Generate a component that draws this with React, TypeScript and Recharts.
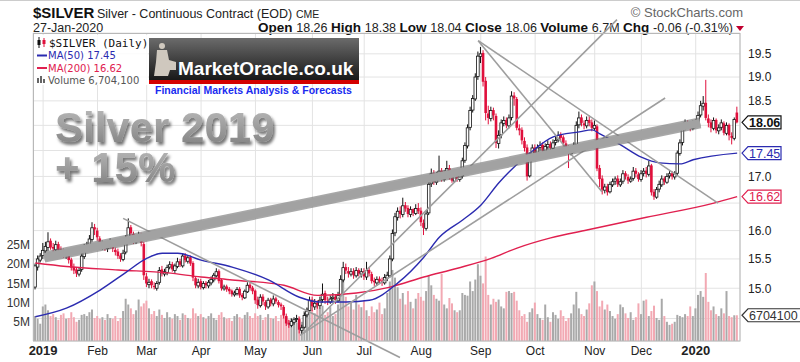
import React from 'react'
import {
  ComposedChart,
  Bar,
  Line,
  XAxis,
  YAxis,
  CartesianGrid,
  ReferenceLine,
  Cell,
} from 'recharts'

const FONT = '"Liberation Sans", Arial, sans-serif'

// month labels and the bar index each month starts at
const monthLabels = ['2019', 'Feb', 'Mar', 'Apr', 'May', 'Jun', 'Jul', 'Aug', 'Sep', 'Oct', 'Nov', 'Dec', '2020']
const monthStarts = [0, 21, 40, 61, 82, 104, 124, 146, 169, 190, 213, 231, 252]

const priceTicks = [14.5, 15, 15.5, 16, 16.5, 17, 17.5, 18, 18.5, 19, 19.5]
// tick labels hidden behind the value tags on the right
const coveredTicks = [14.5, 16.5, 17.5, 18]
const volumeTicks = [5, 10, 15, 20, 25]

// first three bars are the last sessions of Dec 2018
const firstIndex = -3

const opens = [
  15.02, 15.36, 15.48,
  15.56, 15.64, 15.70, 15.82, 15.71, 15.66, 15.76, 15.67, 15.63, 15.56, 15.62, 15.49, 15.36, 15.32, 15.24, 15.32, 15.54, 15.69, 15.73, 15.84, 16.06,
  16.00, 15.86, 15.70, 15.76, 15.68, 15.73, 15.81, 15.66, 15.63, 15.56, 15.49, 15.62, 15.84, 16.06, 15.94, 15.80, 15.84, 15.92, 15.76,
  15.20, 15.06, 15.12, 15.04, 15.00, 15.10, 15.32, 15.24, 15.27, 15.36, 15.41, 15.30, 15.37, 15.46, 15.38, 15.56, 15.46, 15.53, 15.43, 15.17, 15.04,
  15.12, 15.01, 15.09, 15.04, 15.09, 15.14, 15.21, 15.29, 15.14, 14.99, 15.03, 14.99, 14.96, 14.89, 14.91, 14.99, 14.89, 14.84, 14.94, 15.06, 15.01,
  14.96, 14.81, 14.71, 14.86, 14.77, 14.69, 14.81, 14.74, 14.83, 14.77, 14.73, 14.69, 14.54, 14.43, 14.39, 14.44, 14.49, 14.49, 14.31, 14.36, 14.56, 14.63,
  14.81, 14.69, 14.76, 14.71, 14.81, 14.92, 14.79, 14.77, 14.83, 14.86, 14.79, 14.89, 15.14, 15.36, 15.29, 15.24, 15.29, 15.21, 15.31, 15.24,
  15.29, 15.19, 15.31, 15.24, 15.13, 15.09, 15.16, 15.13, 15.09, 15.17, 15.21, 15.50, 15.96, 16.24, 16.36, 16.29, 16.46, 16.41, 16.29, 16.39, 16.31, 16.41,
  16.36, 16.14, 16.04, 16.32, 16.86, 17.06, 16.89, 17.01, 17.11, 16.94, 17.06, 17.16, 16.99, 16.91, 17.06, 16.94, 17.01, 17.31, 17.59, 17.96, 18.31, 18.54, 19.01,
  19.44, 19.52, 18.92, 18.24, 18.14, 18.31, 18.19, 17.64, 17.81, 18.04, 18.11, 17.99, 18.16, 18.61, 18.54, 17.94, 17.91, 17.69, 17.56, 17.01, 17.41,
  17.56, 17.44, 17.56, 17.61, 17.49, 17.57, 17.63, 17.54, 17.66, 17.71, 17.81, 17.76, 17.64, 17.56, 17.44, 17.51, 17.61, 18.01, 18.16, 18.04, 17.99, 18.11, 18.06,
  17.94, 17.98, 17.16, 16.96, 16.74, 16.81, 16.71, 16.84, 16.91, 16.96, 16.84, 16.91, 17.06, 16.99, 16.91, 16.96, 17.11, 17.04,
  16.94, 17.06, 17.11, 17.04, 17.21, 16.71, 16.61, 16.76, 16.84, 16.96, 16.89, 17.01, 17.06, 16.99, 17.06, 17.44, 17.66, 17.94, 18.06, 17.99, 17.94,
  18.06, 18.04, 18.21, 18.39, 18.46, 18.14, 18.06, 17.94, 18.11, 17.89, 17.96, 18.04, 17.84, 18.01, 17.79, 17.74, 18.26,
]

const highs = [
  15.42, 15.56, 15.60,
  15.78, 15.80, 15.97, 15.86, 15.78, 15.82, 15.80, 15.72, 15.68, 15.66, 15.65, 15.52, 15.42, 15.36, 15.36, 15.60, 15.76, 15.80, 15.92, 16.15, 16.12,
  16.05, 15.90, 15.82, 15.80, 15.78, 15.86, 15.84, 15.70, 15.68, 15.60, 15.66, 15.92, 16.22, 16.10, 15.98, 15.92, 15.98, 15.96, 15.80,
  15.26, 15.16, 15.15, 15.10, 15.12, 15.36, 15.38, 15.33, 15.40, 15.46, 15.45, 15.42, 15.52, 15.50, 15.60, 15.60, 15.56, 15.56, 15.46, 15.20, 15.16,
  15.16, 15.12, 15.12, 15.14, 15.20, 15.26, 15.34, 15.32, 15.16, 15.06, 15.06, 15.02, 14.98, 14.96, 15.02, 15.02, 14.92, 14.98, 15.10, 15.10, 15.04,
  14.98, 14.86, 14.90, 14.90, 14.80, 14.84, 14.84, 14.88, 14.86, 14.80, 14.76, 14.72, 14.58, 14.48, 14.50, 14.52, 14.56, 14.52, 14.40, 14.60, 14.68, 14.86,
  14.86, 14.82, 14.80, 14.86, 15.08, 14.96, 14.86, 14.88, 14.92, 14.90, 14.94, 15.22, 15.45, 15.42, 15.36, 15.34, 15.34, 15.36, 15.34, 15.34,
  15.34, 15.45, 15.36, 15.28, 15.18, 15.20, 15.20, 15.18, 15.24, 15.28, 15.56, 16.02, 16.32, 16.42, 16.44, 16.60, 16.52, 16.46, 16.44, 16.40, 16.48, 16.50,
  16.42, 16.20, 16.36, 16.92, 17.15, 17.12, 17.08, 17.40, 17.16, 17.12, 17.30, 17.22, 17.04, 17.10, 17.10, 17.06, 17.36, 17.66, 18.02, 18.38, 18.62, 19.08, 19.55,
  19.65, 19.58, 19.00, 18.40, 18.38, 18.36, 18.24, 17.90, 18.12, 18.18, 18.16, 18.22, 18.70, 18.68, 18.58, 18.02, 17.96, 17.76, 17.62, 17.46, 17.62,
  17.62, 17.62, 17.68, 17.66, 17.64, 17.70, 17.68, 17.72, 17.78, 17.88, 17.86, 17.80, 17.70, 17.60, 17.58, 17.66, 18.08, 18.28, 18.22, 18.10, 18.18, 18.20, 18.12,
  18.10, 18.02, 17.22, 17.02, 16.86, 16.86, 16.90, 16.96, 17.00, 17.02, 16.96, 17.12, 17.10, 17.04, 17.00, 17.18, 17.16, 17.08,
  17.12, 17.16, 17.18, 17.30, 17.24, 16.76, 16.80, 16.92, 17.02, 17.00, 17.06, 17.10, 17.10, 17.10, 17.50, 17.72, 18.00, 18.12, 18.10, 18.04, 18.10,
  18.12, 18.28, 18.50, 18.60, 18.94, 18.22, 18.12, 18.16, 18.14, 18.02, 18.12, 18.08, 18.06, 18.04, 17.86, 18.16, 18.38,
]

const lows = [
  14.98, 15.30, 15.44,
  15.50, 15.58, 15.64, 15.66, 15.60, 15.62, 15.60, 15.56, 15.52, 15.50, 15.42, 15.30, 15.24, 15.19, 15.20, 15.28, 15.50, 15.62, 15.68, 15.80, 15.92,
  15.82, 15.66, 15.66, 15.64, 15.62, 15.68, 15.62, 15.56, 15.50, 15.45, 15.46, 15.58, 15.80, 15.90, 15.76, 15.76, 15.80, 15.72, 15.14,
  15.02, 15.00, 15.00, 14.98, 14.96, 15.06, 15.20, 15.20, 15.22, 15.32, 15.28, 15.26, 15.34, 15.36, 15.35, 15.44, 15.42, 15.38, 15.12, 15.00, 15.00,
  14.98, 14.98, 15.00, 15.00, 15.05, 15.10, 15.18, 15.08, 14.96, 14.96, 14.94, 14.90, 14.86, 14.86, 14.88, 14.84, 14.80, 14.82, 14.92, 14.96, 14.90,
  14.74, 14.66, 14.68, 14.72, 14.64, 14.66, 14.70, 14.70, 14.74, 14.68, 14.64, 14.50, 14.38, 14.35, 14.36, 14.40, 14.44, 14.26, 14.25, 14.34, 14.52, 14.60,
  14.62, 14.64, 14.66, 14.66, 14.76, 14.74, 14.72, 14.74, 14.78, 14.74, 14.76, 14.86, 15.10, 15.24, 15.18, 15.20, 15.16, 15.18, 15.20, 15.18,
  15.14, 15.14, 15.20, 15.08, 15.04, 15.05, 15.08, 15.04, 15.06, 15.12, 15.18, 15.46, 15.90, 16.18, 16.22, 16.24, 16.34, 16.24, 16.24, 16.26, 16.28, 16.30,
  16.08, 15.92, 16.00, 16.28, 16.80, 16.84, 16.84, 16.94, 16.90, 16.90, 17.00, 16.94, 16.88, 16.88, 16.90, 16.90, 16.96, 17.26, 17.54, 17.90, 18.26, 18.50, 18.94,
  19.30, 18.80, 18.10, 18.02, 18.08, 18.10, 17.55, 17.54, 17.74, 17.98, 17.94, 17.94, 18.10, 18.40, 17.90, 17.80, 17.62, 17.48, 16.92, 16.98, 17.34,
  17.38, 17.40, 17.50, 17.44, 17.44, 17.52, 17.48, 17.50, 17.60, 17.66, 17.68, 17.58, 17.48, 17.16, 17.40, 17.46, 17.56, 17.94, 17.98, 17.92, 17.94, 17.98, 17.88,
  17.90, 17.10, 16.80, 16.66, 16.68, 16.64, 16.68, 16.80, 16.84, 16.80, 16.80, 16.86, 16.94, 16.86, 16.88, 16.92, 16.98, 16.90,
  16.90, 17.00, 16.98, 17.00, 16.64, 16.56, 16.58, 16.70, 16.80, 16.84, 16.86, 16.96, 16.94, 16.94, 17.02, 17.40, 17.60, 17.90, 17.94, 17.88, 17.90,
  17.96, 18.00, 18.16, 18.30, 18.10, 17.96, 17.86, 17.90, 17.84, 17.82, 17.90, 17.80, 17.80, 17.70, 17.62, 17.70, 18.04,
]

const closes = [
  15.38, 15.50, 15.55,
  15.65, 15.72, 15.80, 15.70, 15.68, 15.75, 15.66, 15.62, 15.58, 15.60, 15.48, 15.35, 15.30, 15.25, 15.30, 15.55, 15.70, 15.72, 15.85, 16.05, 16.02,
  15.88, 15.72, 15.75, 15.70, 15.72, 15.80, 15.68, 15.62, 15.55, 15.50, 15.60, 15.85, 16.05, 15.95, 15.82, 15.85, 15.90, 15.78, 15.22,
  15.08, 15.10, 15.05, 15.02, 15.08, 15.30, 15.25, 15.28, 15.35, 15.40, 15.32, 15.38, 15.45, 15.40, 15.55, 15.48, 15.52, 15.42, 15.18, 15.05, 15.10,
  15.02, 15.08, 15.05, 15.10, 15.15, 15.22, 15.28, 15.12, 15.00, 15.02, 14.98, 14.95, 14.90, 14.92, 14.98, 14.88, 14.85, 14.95, 15.05, 15.00, 14.95,
  14.80, 14.72, 14.85, 14.78, 14.70, 14.80, 14.75, 14.82, 14.78, 14.72, 14.70, 14.55, 14.42, 14.40, 14.45, 14.48, 14.50, 14.32, 14.35, 14.55, 14.62, 14.80,
  14.70, 14.75, 14.72, 14.80, 14.90, 14.80, 14.78, 14.82, 14.85, 14.80, 14.88, 15.15, 15.35, 15.30, 15.25, 15.28, 15.22, 15.30, 15.25, 15.28,
  15.20, 15.30, 15.25, 15.12, 15.10, 15.15, 15.12, 15.10, 15.18, 15.22, 15.50, 15.95, 16.25, 16.35, 16.30, 16.45, 16.40, 16.30, 16.38, 16.32, 16.40, 16.35,
  16.15, 16.05, 16.30, 16.85, 17.05, 16.90, 17.00, 17.10, 16.95, 17.05, 17.15, 17.00, 16.92, 17.05, 16.95, 17.00, 17.30, 17.60, 17.95, 18.30, 18.55, 19.00, 19.45,
  19.50, 18.90, 18.25, 18.15, 18.30, 18.20, 17.65, 17.80, 18.05, 18.10, 18.00, 18.15, 18.60, 18.55, 17.95, 17.90, 17.70, 17.55, 17.00, 17.40, 17.55,
  17.45, 17.55, 17.60, 17.50, 17.58, 17.62, 17.55, 17.65, 17.70, 17.80, 17.75, 17.65, 17.55, 17.45, 17.50, 17.60, 18.00, 18.15, 18.05, 18.00, 18.10, 18.05, 17.95,
  18.00, 17.15, 16.95, 16.75, 16.80, 16.70, 16.85, 16.90, 16.95, 16.85, 16.90, 17.05, 17.00, 16.92, 16.95, 17.10, 17.05, 16.95,
  17.05, 17.10, 17.05, 17.20, 16.70, 16.62, 16.75, 16.85, 16.95, 16.90, 17.00, 17.05, 17.00, 17.05, 17.45, 17.65, 17.95, 18.05, 18.00, 17.95, 18.05,
  18.05, 18.20, 18.40, 18.45, 18.15, 18.05, 17.95, 18.10, 17.90, 17.95, 18.05, 17.85, 18.00, 17.80, 17.75, 18.12, 18.06,
]

// daily volume, millions
const volumes = [
  6.5, 5.8, 4.5,
  9.0, 9.5, 8.0, 6.5, 7.0, 6.2, 5.5, 6.8, 7.2, 5.8, 6.0, 7.5, 6.2, 5.0, 5.5, 6.8, 7.0, 6.5, 7.5, 8.2, 6.0,
  6.5, 5.8, 6.2, 5.5, 7.0, 6.0, 5.8, 6.5, 5.2, 6.0, 7.8, 11.0, 9.5, 8.5, 7.0, 8.0, 10.8, 9.0, 9.8,
  10.5, 8.5, 7.0, 7.8, 6.5, 8.2, 6.8, 6.0, 7.5, 6.2, 5.8, 7.0, 6.5, 5.5, 7.2, 6.8, 6.0, 5.8, 8.5, 7.2, 6.5,
  7.0, 6.2, 5.8, 6.5, 7.2, 6.0, 5.5, 6.8, 7.5, 6.2, 5.8, 6.0, 5.2, 6.5, 7.0, 6.2, 5.8, 6.8, 7.5, 6.5, 6.0,
  7.2, 6.5, 6.8, 5.5, 6.2, 7.0, 6.0, 5.8, 6.5, 5.2, 6.8, 7.5, 6.2, 5.5, 6.0, 5.2, 4.8, 6.5, 5.0, 7.8, 8.5, 9.5,
  8.0, 7.2, 10.0, 8.5, 9.2, 6.8, 7.5, 8.8, 6.5, 7.0, 9.5, 13.0, 16.5, 11.5, 9.0, 10.0, 8.2, 12.0, 9.5, 8.8,
  10.5, 8.0, 6.5, 9.0, 7.5, 8.2, 10.0, 7.0, 8.5, 12.5, 15.5, 18.5, 16.5, 14.0, 11.0, 12.5, 9.5, 13.0, 10.2, 8.5, 11.0, 12.5,
  11.5, 10.5, 13.0, 17.0, 14.5, 12.0, 11.0, 10.5, 17.5, 9.5, 8.5, 11.2, 9.8, 8.0, 7.5, 8.0, 12.5, 12.0, 11.8, 15.5, 13.0, 16.0, 20.0,
  17.0, 15.0, 22.0, 12.0, 9.5, 11.0, 10.2, 10.8, 9.0, 8.5, 12.8, 13.0, 12.5, 12.8, 10.5, 8.0, 6.5, 7.0, 5.0, 7.5, 8.5,
  10.0, 7.0, 6.0, 5.5, 9.5, 6.2, 5.0, 7.5, 6.8, 5.8, 8.0, 6.5, 5.2, 6.0, 7.2, 9.5, 12.8, 8.5, 7.0, 6.5, 8.2, 9.8, 14.5,
  15.5, 13.0, 9.0, 10.5, 8.2, 9.5, 7.8, 6.5, 5.8, 7.0, 9.5, 8.8, 7.2, 6.0, 7.5, 5.5, 6.2, 9.8,
  7.0, 10.5, 10.8, 6.5, 7.8, 9.2, 6.0, 5.5, 11.0, 6.5, 5.0, 4.2, 4.5, 5.0, 6.8, 6.5, 6.2, 7.0, 6.5, 9.0, 6.5,
  8.5, 12.0, 13.0, 11.5, 17.7, 10.2, 8.0, 9.0, 7.0, 6.5, 8.5, 7.2, 13.0, 6.5, 6.2, 6.7, 6.7041,
]

// moving averages: [bar index, value]
const ma50 = [
  [-3, 14.53], [9, 14.67], [22, 14.97], [32, 15.27], [40, 15.51], [46, 15.6], [52, 15.6], [61, 15.48],
  [73, 15.36], [87, 15.14], [99, 14.85], [107, 14.77], [117, 14.77], [126, 14.8], [137, 15.09], [147, 15.53],
  [153, 15.88], [162, 16.19], [169, 16.46], [176, 16.88], [188, 17.45], [197, 17.77], [207, 17.87], [212, 17.91],
  [215, 17.83], [223, 17.61], [231, 17.37], [238, 17.26], [246, 17.24], [251, 17.32], [268, 17.45],
]
const ma200 = [
  [-3, 15.43], [9, 15.37], [29, 15.31], [48, 15.26], [61, 15.19], [73, 15.14], [93, 15.05], [106, 14.88],
  [121, 14.92], [134, 15.02], [147, 15.19], [160, 15.34], [173, 15.51], [183, 15.69], [196, 15.87], [210, 16.01],
  [233, 16.24], [259, 16.5], [268, 16.62],
]

// hand-drawn trend lines: [bar index, price] -> [bar index, price]
const trendLines = [
  { from: [30.9, 16.22], to: [137.8, 13.88] },
  { from: [168, 19.79], to: [215.8, 16.71] },
  { from: [168, 19.79], to: [260.6, 16.5] },
  { from: [100.4, 14.26], to: [221.6, 20.26] },
  { from: [99.2, 14.23], to: [240.2, 18.56] },
]
const mainTrend = { from: [0.4, 15.53], to: [253.7, 18.05] }

const rows = closes.map((c, k) => {
  const i = firstIndex + k
  const prev = k > 0 ? closes[k - 1] : opens[k]
  const m50 = ma50.find((p) => p[0] === i)
  const m200 = ma200.find((p) => p[0] === i)
  return {
    i,
    o: opens[k],
    h: highs[k],
    l: lows[k],
    c,
    range: [lows[k], highs[k]],
    vol: volumes[k],
    up: c >= prev,
    ma50: m50 ? m50[1] : null,
    ma200: m200 ? m200[1] : null,
  }
})

const RED = '#e0103c'

function Candle(props: any) {
  const { x, y, width, height, payload } = props
  if (!payload || height == null || isNaN(y)) return null
  const { o, h, l, c, up } = payload
  const lh = Math.log(h)
  const ll = Math.log(l)
  const py = (p: number) => y + (height * (lh - Math.log(p))) / (lh - ll || 1)
  const cx = x + width / 2
  const color = up ? '#111' : RED
  const top = py(Math.max(o, c))
  const bh = Math.max(py(Math.min(o, c)) - top, 1)
  const hollow = c > o
  return (
    <g>
      <line x1={cx} x2={cx} y1={y} y2={y + height} stroke={color} strokeWidth={1} />
      <rect
        x={cx - 1.3}
        y={top}
        width={2.6}
        height={bh}
        fill={hollow ? '#fff' : color}
        stroke={color}
        strokeWidth={hollow ? 0.8 : 0}
      />
    </g>
  )
}

function MonthTick(props: any) {
  const { x, payload } = props
  const label = monthLabels[monthStarts.indexOf(payload.value)]
  const year = /^\d{4}$/.test(label)
  return (
    <text x={x} y={355} textAnchor="middle" fontSize={year ? 13 : 12} fontWeight={year ? 700 : 400} fill="#222" fontFamily={FONT}>
      {label}
    </text>
  )
}

function PriceTick(props: any) {
  const { x, y, payload } = props
  if (coveredTicks.includes(payload.value)) return <g />
  return (
    <text x={x} y={y} dy="0.355em" fontSize={12} fill="#222" fontFamily={FONT}>
      {payload.value.toFixed(1)}
    </text>
  )
}

function ValueTag(props: any) {
  const { viewBox, text, color, bold, wide } = props
  if (!viewBox) return null
  const x0 = viewBox.x + viewBox.width + 2
  const y0 = viewBox.y
  const w = wide ? 70 : 39
  return (
    <g>
      <path
        d={`M${x0},${y0} L${x0 + 6},${y0 - 6.5} L${x0 + w},${y0 - 6.5} L${x0 + w},${y0 + 6.5} L${x0 + 6},${y0 + 6.5} Z`}
        fill="#fff"
        stroke={color}
        strokeWidth={1.2}
      />
      <text x={x0 + 7} y={y0 + 4.5} fontSize={12.5} fontWeight={bold ? 700 : 400} fill={color} fontFamily={FONT}>
        {text}
      </text>
    </g>
  )
}

function Header() {
  const lab = { fontSize: 13.5, fontWeight: 700, fill: '#111' }
  const num = { fontSize: 12.5, fontWeight: 400, fill: '#222' }
  return (
    <svg width={800} height={362} style={{ position: 'absolute', left: 0, top: 0 }} fontFamily={FONT}>
      <line x1={0} x2={800} y1={0.5} y2={0.5} stroke="#ccc" />
      <text x={33} y={18} fontSize={15} fontWeight={700} fill="#111">$SILVER</text>
      <text x={97} y={18} fontSize={12.5} fill="#222">Silver - Continuous Contract (EOD)</text>
      <text x={296} y={18} fontSize={10.5} fill="#222">CME</text>
      <text x={743} y={17} textAnchor="end" fontSize={13} fill="#666">© StockCharts.com</text>
      <text x={33} y={32} fontSize={12.5} fill="#222">27-Jan-2020</text>
      <text x={733} y={32} textAnchor="end" xmlSpace="preserve">
        <tspan {...lab}>Open </tspan>
        <tspan {...num}>18.26 </tspan>
        <tspan {...lab}>High </tspan>
        <tspan {...num}>18.38 </tspan>
        <tspan {...lab}>Low </tspan>
        <tspan {...num}>18.04 </tspan>
        <tspan {...lab}>Close </tspan>
        <tspan {...num}>18.06 </tspan>
        <tspan {...lab}>Volume </tspan>
        <tspan {...num}>6.7M </tspan>
        <tspan {...lab}>Chg </tspan>
        <tspan {...num}>-0.06 (-0.31%)</tspan>
      </text>
      <path d="M736,26 L744,26 L740,31 Z" fill="#c00030" />
    </svg>
  )
}

function Overlay() {
  return (
    <svg width={800} height={362} style={{ position: 'absolute', left: 0, top: 0, pointerEvents: 'none' }} fontFamily={FONT}>
      <defs>
        <linearGradient id="logoBg" x1="0" y1="0" x2="0" y2="1">
          <stop offset="0" stopColor="#6b6b6b" />
          <stop offset="1" stopColor="#161616" />
        </linearGradient>
        <linearGradient id="bigText" x1="0" y1="0" x2="0" y2="1">
          <stop offset="0" stopColor="#bdbdbd" />
          <stop offset="1" stopColor="#7c7c7c" />
        </linearGradient>
        <filter id="shadow" x="-10%" y="-20%" width="130%" height="160%">
          <feDropShadow dx="2" dy="3" stdDeviation="1.6" floodColor="#000" floodOpacity="0.55" />
        </filter>
      </defs>
      <rect x={33.5} y={33.5} width={706.5} height={307.5} fill="none" stroke="#b8b8b8" />

      {/* legend */}
      <rect x={34} y={35} width={114} height={50} fill="#fff" fillOpacity={0.85} />
      <line x1={39} x2={39} y1={37} y2={48} stroke="#111" />
      <rect x={37.5} y={40} width={3} height={5} fill="#111" />
      <line x1={44} x2={44} y1={38} y2={47} stroke={RED} />
      <rect x={42.5} y={40} width={3} height={4} fill={RED} />
      <text x={49} y={47} fontSize={11} fontFamily='"DejaVu Sans Mono", monospace' fill="#111">$SILVER (Daily)</text>
      <line x1={37} x2={47} y1={55.5} y2={55.5} stroke="#2b2bb0" strokeWidth={2} />
      <text x={48} y={59} fontSize={10} fontFamily='"DejaVu Sans", sans-serif' fill="#2b2bb0">MA(50) 17.45</text>
      <line x1={37} x2={47} y1={68} y2={68} stroke="#e0204f" strokeWidth={2} />
      <text x={48} y={72} fontSize={10} fontFamily='"DejaVu Sans", sans-serif' fill="#e0204f">MA(200) 16.62</text>
      <rect x={37} y={78} width={2} height={5} fill="#666" />
      <rect x={40} y={76} width={2} height={7} fill="#666" />
      <rect x={43} y={79} width={2} height={4} fill="#666" />
      <text x={48} y={84} fontSize={10} fontFamily='"DejaVu Sans", sans-serif' fill="#555">Volume 6,704,100</text>

      {/* MarketOracle logo */}
      <rect x={149} y={38} width={210} height={43} fill="url(#logoBg)" />
      <rect x={149} y={80} width={210} height={4} fill="#d40000" />
      <g fill="#cfc8be">
        <circle cx={162} cy={46} r={3} />
        <path d="M157,50 L167,50 L169,60 L176,62 L176,70 L170,70 L168,76 L154,76 L156,62 Z" />
      </g>
      <text x={178} y={75} fontSize={19} fontWeight={700} fill="#fff">MarketOracle.co.uk</text>
      <text x={155} y={94} fontSize={10.5} fontWeight={700} fill="#1a2cf0">Financial Markets Analysis &amp; Forecasts</text>

      {/* headline */}
      <g filter="url(#shadow)" fill="url(#bigText)" fontSize={42} fontWeight={700}>
        <text x={55} y={142}>Silver 2019</text>
        <text x={55} y={182}>+ 15%</text>
      </g>
    </svg>
  )
}

export default function App() {
  return (
    <div style={{ position: 'absolute', left: 0, top: 0, width: 800, height: 362, background: '#fff', overflow: 'hidden' }}>
      <Header />
      <div style={{ position: 'absolute', left: 0, top: 0 }}>
        <ComposedChart width={800} height={362} data={rows} margin={{ top: 33, right: 0, bottom: 0, left: 0 }}>
          <XAxis
            xAxisId="x"
            dataKey="i"
            type="number"
            domain={[-3.9, 269.1]}
            ticks={monthStarts}
            interval={0}
            tick={<MonthTick />}
            height={21}
            axisLine={false}
            tickLine={false}
            tickSize={2}
            tickMargin={2}
            allowDataOverflow
          />
          <XAxis xAxisId="vx" dataKey="i" type="number" domain={[-3.9, 269.1]} hide allowDataOverflow />
          <YAxis
            yAxisId="vol"
            orientation="left"
            width={33}
            domain={[0, 80.2]}
            ticks={volumeTicks}
            interval={0}
            tickFormatter={(v: number) => `${v}M`}
            axisLine={false}
            tickLine={false}
            tickSize={1}
            tickMargin={2}
            tick={{ fontSize: 12, fill: '#333', fontFamily: FONT }}
            allowDataOverflow
          />
          <YAxis
            yAxisId="price"
            orientation="right"
            width={60}
            scale="log"
            domain={[14.14, 19.96]}
            ticks={priceTicks}
            interval={0}
            axisLine={false}
            tickLine={false}
            tickSize={6}
            tickMargin={2}
            tick={<PriceTick />}
            allowDataOverflow
          />
          <CartesianGrid xAxisId="x" yAxisId="price" stroke="#e3e3e3" />
          <Bar xAxisId="vx" yAxisId="vol" dataKey="vol" barSize={2} isAnimationActive={false}>
            {rows.map((r) => (
              <Cell key={r.i} fill={r.up ? '#a9a9a9' : '#f2a9b3'} />
            ))}
          </Bar>
          <Line xAxisId="x" yAxisId="price" dataKey="ma200" type="monotone" connectNulls dot={false} stroke="#e0204f" strokeWidth={1.4} isAnimationActive={false} />
          <Line xAxisId="x" yAxisId="price" dataKey="ma50" type="monotone" connectNulls dot={false} stroke="#2b2bb0" strokeWidth={1.4} isAnimationActive={false} />
          <Bar xAxisId="x" yAxisId="price" dataKey="range" barSize={2} isAnimationActive={false} shape={(p: any) => <Candle {...p} />} />
          {trendLines.map((t, k) => (
            <ReferenceLine
              key={k}
              xAxisId="x"
              yAxisId="price"
              segment={[{ x: t.from[0], y: t.from[1] }, { x: t.to[0], y: t.to[1] }]}
              stroke="#9e9e9e"
              strokeWidth={1.6}
              ifOverflow="visible"
            />
          ))}
          <ReferenceLine
            xAxisId="x"
            yAxisId="price"
            segment={[{ x: mainTrend.from[0], y: mainTrend.from[1] }, { x: mainTrend.to[0], y: mainTrend.to[1] }]}
            stroke="#6e6e6e"
            strokeOpacity={0.6}
            strokeWidth={11}
            ifOverflow="visible"
          />
          <ReferenceLine
            xAxisId="x"
            yAxisId="price"
            segment={[{ x: mainTrend.from[0], y: mainTrend.from[1] }, { x: mainTrend.to[0], y: mainTrend.to[1] }]}
            stroke="#a2a2a2"
            strokeWidth={8}
            ifOverflow="visible"
          />
          <ReferenceLine xAxisId="x" yAxisId="price" y={18.06} stroke="none" label={<ValueTag text="18.06" color="#111" bold />} />
          <ReferenceLine xAxisId="x" yAxisId="price" y={17.45} stroke="none" label={<ValueTag text="17.45" color="#2b2bb0" />} />
          <ReferenceLine xAxisId="x" yAxisId="price" y={16.62} stroke="none" label={<ValueTag text="16.62" color="#e0204f" />} />
          <ReferenceLine xAxisId="vx" yAxisId="vol" y={6.7041} stroke="none" label={<ValueTag text="6704100" color="#333" wide />} />
        </ComposedChart>
      </div>
      <Overlay />
    </div>
  )
}
